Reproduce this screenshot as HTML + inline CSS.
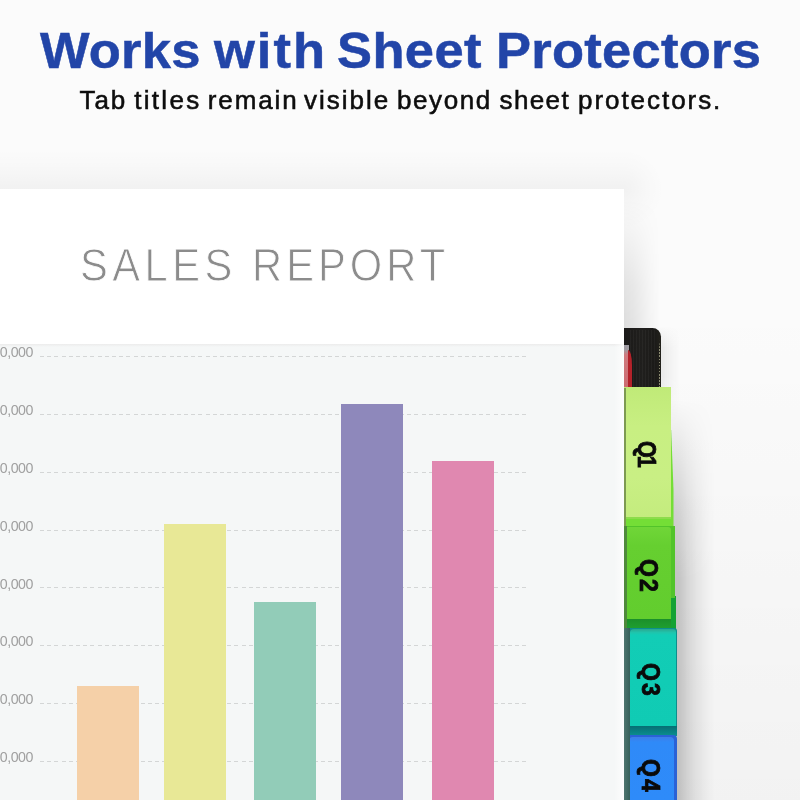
<!DOCTYPE html>
<html lang="en">
<head>
<meta charset="utf-8">
<title>Works with Sheet Protectors</title>
<style>
*{margin:0;padding:0;box-sizing:border-box}
html,body{width:800px;height:800px;overflow:hidden}
body{position:relative;background:#fafafa;font-family:"Liberation Sans",sans-serif}
.abs{position:absolute}
#bg{left:0;top:0;width:800px;height:800px;background:#fbfbfb}
#topshade{left:0;top:149px;width:624px;height:40px;background:linear-gradient(to bottom,rgba(0,0,0,0),rgba(0,0,0,0.012) 40%,rgba(0,0,0,0.04))}
#topshade2{left:624px;top:149px;width:40px;height:80px;background:radial-gradient(circle 40px at 0 50%,rgba(0,0,0,0.04),rgba(0,0,0,0.012) 60%,rgba(0,0,0,0))}
h1{position:absolute;left:0;top:21.4px;width:800px;height:60px;font-size:50px;line-height:60px;font-weight:700;color:#2245a8;white-space:nowrap;-webkit-text-stroke:0.5px #2245a8}
h1 span,#sub span{position:absolute;top:0;display:block;transform-origin:0 0}
h1 span{transform:scaleX(1.05)}
#sub{position:absolute;left:0;top:83.1px;width:800px;height:34px;font-size:26px;line-height:34px;color:#0d0d0d;white-space:nowrap;-webkit-text-stroke:0.55px #0d0d0d}
#paper{left:0;top:189px;width:624px;height:611px;background:#fff}
#rt{left:0;top:238.7px;width:600px;height:52px;font-size:46.3px;line-height:52px;color:#8c8c8c;white-space:nowrap;-webkit-text-stroke:0.9px #fff}
#rt span{position:absolute;top:0;display:block;transform:scaleX(0.9);transform-origin:0 0}
#chart{left:0;top:344px;width:624px;height:456px;background:#f5f7f7;overflow:hidden}
#chart:before{content:"";position:absolute;left:0;top:0;width:100%;height:3px;background:linear-gradient(to bottom,#ececec,#f5f7f7)}
#chart:after{content:"";position:absolute;right:0;top:0;width:10px;height:100%;background:linear-gradient(to right,rgba(255,255,255,0),rgba(255,255,255,0.75))}
.gl{position:absolute;left:40px;width:486px;height:1px;background:repeating-linear-gradient(to right,#d4d6d6 0 4px,transparent 4px 7.2px)}
.yl{position:absolute;left:-7px;width:40px;text-align:right;font-size:14.2px;line-height:14px;color:#a0a0a0;white-space:nowrap;letter-spacing:-0.45px}
.bar{position:absolute;width:62px;bottom:0}
.tabtxt{position:absolute;font-weight:700;font-size:25px;line-height:25px;height:25px;color:#0a0a0a;white-space:nowrap;transform-origin:0 0;transform:rotate(90deg) scale(0.92,1);letter-spacing:2.4px;-webkit-text-stroke:0.8px #0a0a0a}
</style>
</head>
<body>
<div id="bg" class="abs"></div>
<div id="topshade" class="abs"></div>
<div id="topshade2" class="abs"></div>

<h1><span style="left:39.8px;letter-spacing:0.2px">Works</span> <span style="left:213.8px;letter-spacing:1.9px">with</span> <span style="left:337px;letter-spacing:0.35px">Sheet</span> <span style="left:495.5px;letter-spacing:0.25px">Protectors</span></h1>
<p id="sub"><span style="left:79.4px;letter-spacing:2.0px">Tab</span> <span style="left:134.25px;letter-spacing:2.3px">titles</span> <span style="left:207.75px;letter-spacing:1.9px">remain</span> <span style="left:304px;letter-spacing:2.0px">visible</span> <span style="left:397px;letter-spacing:1.6px">beyond</span> <span style="left:499.5px;letter-spacing:1.4px">sheet</span> <span style="left:578px;letter-spacing:1.95px">protectors.</span></p>
<!-- soft shadows on the desk -->
<div class="abs" style="left:560px;top:300px;width:240px;height:500px;background:linear-gradient(to bottom,rgba(0,0,0,0),rgba(0,0,0,0.02) 55%,rgba(0,0,0,0.035))"></div>
<div class="abs" style="left:624px;top:200px;width:36px;height:132px;background:linear-gradient(to right,rgba(0,0,0,0.12),rgba(0,0,0,0.09) 30%,rgba(0,0,0,0.03) 70%,rgba(0,0,0,0));-webkit-mask-image:linear-gradient(to bottom,transparent,rgba(0,0,0,0.3) 25%,rgba(0,0,0,0.8) 65%,#000);mask-image:linear-gradient(to bottom,transparent,rgba(0,0,0,0.3) 25%,rgba(0,0,0,0.8) 65%,#000)"></div>
<div class="abs" style="left:660px;top:326px;width:20px;height:100px;background:linear-gradient(to right,rgba(0,0,0,0.07),rgba(0,0,0,0.03) 50%,rgba(0,0,0,0));-webkit-mask-image:linear-gradient(to bottom,transparent,#000 22px,#000 50px,transparent);mask-image:linear-gradient(to bottom,transparent,#000 22px,#000 50px,transparent)"></div>
<div class="abs" style="left:671px;top:400px;width:44px;height:400px;background:linear-gradient(to right,rgba(0,0,0,0.22),rgba(0,0,0,0.2) 18%,rgba(0,0,0,0.13) 38%,rgba(0,0,0,0.065) 60%,rgba(0,0,0,0.02) 85%,rgba(0,0,0,0));-webkit-mask-image:linear-gradient(to bottom,transparent,rgba(0,0,0,0.35) 50px,rgba(0,0,0,0.75) 110px,#000 180px);mask-image:linear-gradient(to bottom,transparent,rgba(0,0,0,0.35) 50px,rgba(0,0,0,0.75) 110px,#000 180px)"></div>
<!-- binder -->
<div class="abs" style="left:620px;top:328.3px;width:41px;height:60px;background:linear-gradient(to right,#1a1918 0,#201f1d 55%,#1b1a18 85%,#23221c 100%);border-radius:0 8.5px 0 0"></div>
<div class="abs" style="left:630px;top:330px;width:27px;height:58px;background:repeating-linear-gradient(to right,rgba(255,255,255,0.035) 0 1px,rgba(0,0,0,0) 1px 3px)"></div>
<div class="abs" style="left:658.7px;top:340px;width:1.5px;height:47px;background:repeating-linear-gradient(to bottom,#8d8c72 0 1.4px,rgba(0,0,0,0) 1.4px 3.1px);-webkit-mask-image:linear-gradient(to bottom,transparent,#000 9px);mask-image:linear-gradient(to bottom,transparent,#000 9px)"></div>
<div class="abs" style="left:624px;top:345px;width:4.5px;height:43px;background:linear-gradient(to bottom,#9c9aa2 0,#a09aa0 5px,#cf7a7e 10px,#cc6c72)"></div>
<div class="abs" style="left:628px;top:350px;width:4.3px;height:38px;background:#b3222a;border-radius:0 4.3px 0 0 / 0 16px 0 0"></div>
<!-- Q1 -->
<div class="abs" style="left:624px;top:430px;width:49.5px;height:98px;background:#74de36;clip-path:polygon(0 0,47.2px 0,49.5px 60px,49.5px 100%,0 100%)"></div>
<div class="abs" style="left:624px;top:387px;width:46.8px;height:130px;background:linear-gradient(to bottom,#c0ea78,#c8ef82 30%,#c9ef84 70%,#c4ec7e)"></div>
<div class="abs" style="left:624px;top:517px;width:46.8px;height:2px;background:#8ddc4c"></div>
<!-- Q2 -->
<div class="abs" style="left:624px;top:596px;width:51.5px;height:33px;background:#14a234"></div>
<div class="abs" style="left:624px;top:526px;width:50.5px;height:72px;background:#52c42a"></div>
<div class="abs" style="left:624px;top:526.5px;width:46.5px;height:92.5px;border-radius:0 3px 0 0;background:linear-gradient(to bottom,#70d638,#66cf30 20%,#62cd2e)"></div>
<div class="abs" style="left:624px;top:619px;width:46.5px;height:10px;background:linear-gradient(to bottom,#1b8f2a,#1fa030)"></div>
<!-- Q3 -->
<div class="abs" style="left:624px;top:627.5px;width:52.5px;height:108px;background:#0c8f8d;border-radius:0 3px 0 0"></div>
<div class="abs" style="left:629.5px;top:629px;width:46.3px;height:96.5px;border-radius:4px 3px 0 0;background:linear-gradient(to bottom,#2aa890,#1fc4ac 3.5px,#12cdb6 6px,#10cbb4)"></div>
<div class="abs" style="left:628.5px;top:725.5px;width:48px;height:10px;background:linear-gradient(to bottom,#066f74,#0b8f90)"></div>
<!-- Q4 -->
<div class="abs" style="left:624px;top:735px;width:53px;height:65px;background:#2a62d6;border-radius:0 4px 0 0"></div>
<div class="abs" style="left:629px;top:737px;width:44.5px;height:63px;border-radius:4px 4px 0 0;background:linear-gradient(to bottom,#3f7de8,#2f8af8 8%,#2e8bf9)"></div>
<!-- dark gap at sheet edge -->
<div class="abs" style="left:624px;top:388px;width:2px;height:138px;background:#7d9a52"></div>
<div class="abs" style="left:624px;top:526px;width:3px;height:102px;background:#4f8a3c"></div>
<div class="abs" style="left:624px;top:628px;width:5.5px;height:172px;background:linear-gradient(to right,#4f7670,#36605a)"></div>

<div id="paper" class="abs"></div>
<div id="rt" class="abs"><span style="left:79.5px;letter-spacing:5.0px">SALES</span> <span style="left:251.5px;letter-spacing:4.5px">REPORT</span></div>
<div id="chart" class="abs">
<div class="gl" style="top:12.0px"></div>
<div class="gl" style="top:69.8px"></div>
<div class="gl" style="top:127.6px"></div>
<div class="gl" style="top:185.5px"></div>
<div class="gl" style="top:243.3px"></div>
<div class="gl" style="top:301.0px"></div>
<div class="gl" style="top:358.8px"></div>
<div class="gl" style="top:416.5px"></div>
<div class="yl" style="top:1.2px">0,000</div>
<div class="yl" style="top:59.0px">0,000</div>
<div class="yl" style="top:116.8px">0,000</div>
<div class="yl" style="top:174.7px">0,000</div>
<div class="yl" style="top:232.5px">0,000</div>
<div class="yl" style="top:290.2px">0,000</div>
<div class="yl" style="top:348.0px">0,000</div>
<div class="yl" style="top:405.7px">0,000</div>
<div class="bar" style="left:77px;height:114px;background:#f5d0a8"></div>
<div class="bar" style="left:164px;height:276px;background:#e8e896"></div>
<div class="bar" style="left:254px;height:198px;background:#92ccb8"></div>
<div class="bar" style="left:341px;height:396px;background:#8e88bb"></div>
<div class="bar" style="left:431.5px;height:339px;background:#e088b0"></div>
</div>
<div class="tabtxt" style="left:658.7px;top:441px;transform:rotate(90deg) scale(0.86,1);letter-spacing:-2.2px">Q1</div>
<div class="tabtxt" style="left:661px;top:558.5px">Q2</div>
<div class="tabtxt" style="left:663px;top:663px">Q3</div>
<div class="tabtxt" style="left:663px;top:759px">Q4</div>

</body>
</html>
